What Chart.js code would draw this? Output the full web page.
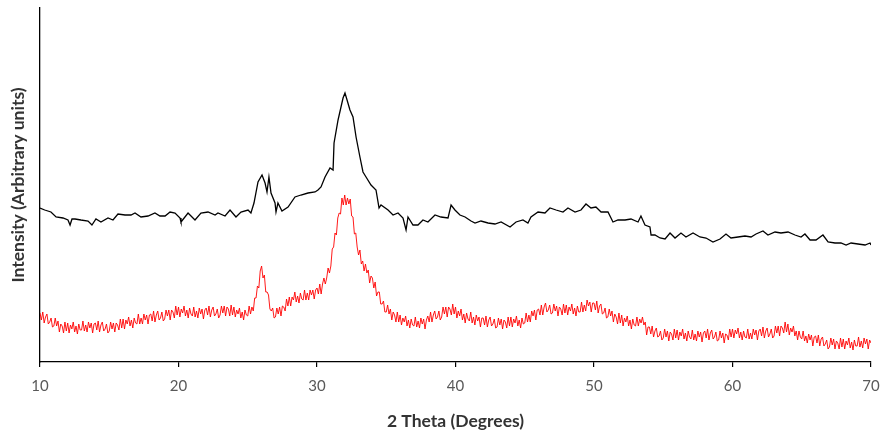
<!DOCTYPE html>
<html>
<head>
<meta charset="utf-8">
<script src="https://cdn.jsdelivr.net/npm/chart.js@4/dist/chart.umd.min.js"></script>
<style>
  html, body { margin: 0; padding: 0; background: #fff; }
  #wrap { width: 880px; height: 434px; }
</style>
</head>
<body>
<div id="wrap"><canvas id="c" width="880" height="434"></canvas></div>
<script>
// 2 Theta (degrees) and intensity (arbitrary units) of the upper (black) pattern
const blackTheta = [10.00,10.34,10.79,11.16,11.66,12.02,12.17,12.31,12.53,12.96,13.47,13.75,14.04,14.40,14.91,15.27,15.63,16.14,16.57,16.86,17.29,17.80,18.30,18.66,19.03,19.39,19.75,20.11,20.18,20.69,21.19,21.62,22.13,22.64,22.85,23.36,23.72,24.15,24.51,25.02,25.23,25.45,25.74,26.03,26.25,26.39,26.53,26.68,26.97,27.04,27.18,27.47,27.91,28.41,28.84,29.35,29.86,30.07,30.29,30.58,30.94,31.16,31.23,31.52,31.88,32.02,32.17,32.38,32.60,32.82,33.10,33.32,33.54,33.90,34.26,34.48,34.62,35.13,35.49,35.85,36.21,36.43,36.57,36.93,37.29,37.65,38.01,38.52,38.95,39.46,39.68,39.96,40.32,40.69,41.12,41.41,41.84,42.35,42.85,43.29,43.94,44.37,44.87,45.23,45.45,45.96,46.46,46.82,47.26,47.76,48.12,48.63,49.06,49.42,49.78,50.14,50.51,50.79,51.01,51.37,51.73,52.24,52.67,53.18,53.39,53.68,54.04,54.12,54.40,54.77,55.13,55.49,55.85,56.28,56.64,57.15,57.65,58.09,58.59,59.10,59.53,59.89,60.40,60.90,61.34,61.70,62.20,62.56,63.07,63.50,64.01,64.51,64.95,65.23,65.60,66.03,66.53,66.90,67.40,67.83,68.20,68.56,69.06,69.57,69.93,70.00];
const blackIntensity = [154,152,150,145,144,142,137,143,143,142,141,137,143,140,144,142,148,147,147,149,145,146,149,146,146,150,149,144,140,149,142,149,150,147,149,146,152,145,150,152,149,159,180,187,179,170,185,169,159,150,159,151,155,165,167,169,170,172,175,185,194,192,219,242,264,269,262,252,245,225,205,190,185,177,172,154,157,152,147,149,144,132,145,137,137,142,140,147,145,144,157,152,147,145,141,139,141,139,138,140,135,140,142,139,145,150,149,154,152,150,154,150,152,158,154,155,150,150,150,140,142,142,143,140,146,137,135,127,127,124,123,129,124,129,125,129,125,124,120,123,128,124,125,126,125,128,131,127,130,129,130,127,125,128,122,122,127,120,119,119,117,119,118,117,119,117];

// Lower (red) pattern: sampled every 0.1 degree from 10 to 70 (one row per degree)
const redStart = 10;
const redStep = 0.1;
const redIntensity = [
49,42,50,39,45,48,38,40,44,35,
36,44,36,41,30,38,36,29,40,31,
39,29,37,33,40,30,36,28,38,32,
32,41,31,37,30,40,34,39,29,38,
39,32,41,30,37,40,31,33,38,29,
31,40,33,39,30,39,37,32,43,34,
43,33,42,38,45,36,42,34,44,39,
38,48,38,44,38,48,42,47,38,47,
48,41,51,40,47,51,42,44,50,41,
43,52,46,52,42,52,50,44,56,47,
55,45,53,49,56,46,52,44,54,48,
46,55,45,51,44,54,48,53,43,52,
54,47,56,45,52,55,46,48,53,44,
47,56,49,56,46,55,53,46,57,47,
55,45,52,48,54,44,50,42,52,47,
46,56,48,55,51,64,64,76,74,91,
96,84,87,70,70,67,53,51,54,44,
45,54,48,55,46,56,55,51,63,56,
65,56,65,62,70,60,66,59,69,63,
62,72,62,69,62,72,67,72,63,72,
74,68,78,68,78,84,78,84,94,89,
96,113,115,129,127,144,149,148,164,157,
167,157,164,158,163,146,145,128,129,115,
107,112,98,101,91,98,89,92,79,86,
84,74,80,66,70,70,58,58,61,50,
50,57,48,53,42,50,47,40,50,40,
47,37,44,40,46,36,42,34,43,37,
36,45,35,41,34,44,38,43,33,42,
46,40,50,40,47,51,43,45,51,42,
45,55,48,55,45,55,53,47,58,48,
55,44,51,46,53,42,48,39,49,43,
41,50,39,45,37,47,41,45,35,44,
44,37,46,35,42,45,36,38,43,34,
35,44,37,43,33,42,40,34,45,36,
45,35,43,39,46,36,42,34,44,38,
39,49,40,47,40,51,46,52,42,52,
53,47,57,47,55,59,50,52,57,48,
49,58,51,56,46,55,53,47,58,49,
57,47,55,51,58,48,54,46,56,50,
50,60,50,57,51,62,56,60,50,59,
59,52,61,49,56,58,48,49,54,44,
45,53,46,51,40,48,45,38,49,39,
47,36,44,40,46,36,42,33,43,37,
36,45,36,43,39,45,37,40,27,35,
35,28,36,25,31,34,25,26,31,22,
24,33,25,31,21,30,28,22,33,24,
32,22,30,26,33,23,29,21,31,25,
23,32,22,28,21,31,25,30,20,29,
31,24,33,22,29,32,23,25,30,21,
22,31,24,29,19,28,27,22,33,25,
33,24,32,28,34,24,30,22,31,25,
24,33,23,29,23,33,27,32,22,31,
33,26,35,24,31,34,25,28,33,24,
26,36,29,36,26,36,34,29,40,30,
38,27,34,30,36,26,31,22,31,25,
23,31,21,26,19,28,22,27,16,25,
26,19,27,16,23,25,16,18,22,13,
15,24,17,23,13,21,19,13,24,15,
23,13,21,17,24,14,20,12,22,16,
16,25,15,21,14,24,18,23,13,22,
19
];

const xTicks = [10, 20, 30, 40, 50, 60, 70];

const blackPoints = blackTheta.map((t, i) => ({ x: t, y: blackIntensity[i] }));
const redPoints = redIntensity.map((v, i) => ({ x: redStart + i * redStep, y: v }));

const ctx = document.getElementById('c').getContext('2d');
new Chart(ctx, {
  type: 'line',
  data: {
    datasets: [
      { label: 'Upper', data: blackPoints, borderColor: '#000000', borderWidth: 1.3, pointRadius: 0, tension: 0, fill: false },
      { label: 'Lower', data: redPoints, borderColor: '#ff0000', borderWidth: 0.9, pointRadius: 0, tension: 0, fill: false }
    ]
  },
  options: {
    responsive: false,
    animation: false,
    events: [],
    layout: { padding: { top: 8, left: 0, right: 0, bottom: 0 } },
    plugins: { legend: { display: false }, tooltip: { enabled: false } },
    scales: {
      x: {
        type: 'linear',
        min: 10, max: 70,
        afterBuildTicks: (axis) => { axis.ticks = xTicks.map(v => ({ value: v })); },
        afterFit: (axis) => { axis.height = 72; axis.paddingLeft = 0; axis.paddingRight = 9; },
        grid: { display: true, drawOnChartArea: false, drawTicks: true, tickLength: 5, color: '#000000', lineWidth: 1.2 },
        border: { display: true, color: '#000000', width: 1.3 },
        ticks: { padding: 10, color: '#595959', font: { family: 'Lato', size: 15 }, maxRotation: 0 },
        title: { display: true, text: '2 Theta (Degrees)', color: '#333333', font: { family: 'Lato', size: 17.5, weight: 'bold' }, padding: { top: 0, bottom: 2 } }
      },
      y: {
        min: 0, max: 354,
        afterFit: (axis) => { axis.width = 40; },
        grid: { display: false },
        border: { display: true, color: '#000000', width: 1.3 },
        ticks: { display: false },
        title: { display: true, text: 'Intensity (Arbitrary units)', color: '#333333', font: { family: 'Lato', size: 17.5, weight: 'bold' }, padding: { top: 7.5, bottom: 0 } }
      }
    }
  }
});
</script>
</body>
</html>
